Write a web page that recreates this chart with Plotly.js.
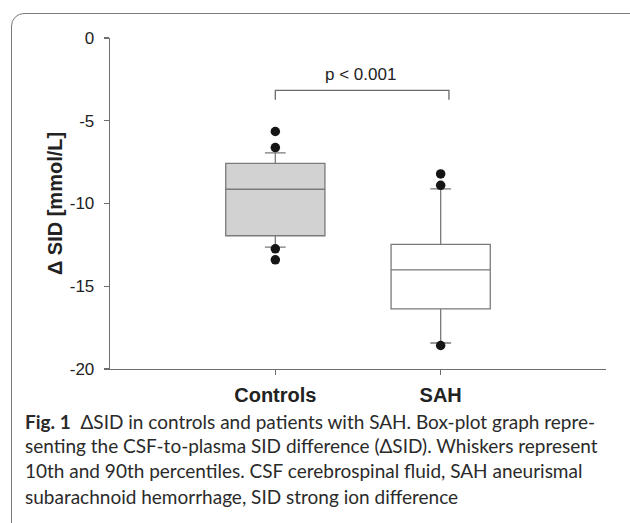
<!DOCTYPE html>
<html>
<head>
<meta charset="utf-8">
<script src="https://cdn.plot.ly/plotly-3.0.1.min.js"></script>
<style>
  html, body { margin: 0; padding: 0; background: #fff; width: 630px; height: 523px; overflow: hidden; }
  #frame { position: absolute; left: 11px; top: 13px; width: 700px; height: 600px;
           border: 1.3px solid #7a7a7a; border-radius: 13px; box-sizing: border-box; }
  #chart { position: absolute; left: 0; top: 0; width: 630px; height: 523px; }
</style>
</head>
<body>
<div id="frame"></div>
<div id="chart"></div>
<script>
// ---- data ----
const categories = ["Controls", "SAH"];
const categoryPos = [0, 1];
// box statistics (whiskers = 10th / 90th percentiles)
const p10    = [-12.63, -18.43];
const q1     = [-11.95, -16.37];
const median = [-9.14, -14.01];
const q3     = [-7.57, -12.47];
const p90    = [-6.94, -9.12];
// points outside the whiskers
const controlsOutliers = [-5.65, -6.62, -12.74, -13.40];
const sahOutliers      = [-8.21, -8.90, -18.58];
// significance bracket
const bracketX = [0, 0, 1.05, 1.05];
const bracketY = [-3.73, -3.17, -3.17, -3.73];
const pLabel = "p < 0.001";
const yTicks = [0, -5, -10, -15, -20];
const yTickLabels = ["0", "-5", "-10", "-15", "-20"];
const captionLines = [
  "<b>Fig. 1</b>  ΔSID in controls and patients with SAH. Box-plot graph repre-",
  "senting the CSF-to-plasma SID difference (ΔSID). Whiskers represent",
  "10th and 90th percentiles. CSF cerebrospinal fluid, SAH aneurismal",
  "subarachnoid hemorrhage, SID strong ion difference"
];

const fills = ["#d2d2d2", "#ffffff"];
const traces = [];
categories.forEach((c, i) => {
  traces.push({
    type: "box",
    name: c,
    x: [categoryPos[i]],
    q1: [q1[i]], median: [median[i]], q3: [q3[i]],
    lowerfence: [p10[i]], upperfence: [p90[i]],
    boxpoints: false,
    width: 0.6,
    whiskerwidth: 0.21,
    fillcolor: fills[i],
    line: { color: "#7a7a7a", width: 1.3 },
    hoverinfo: "skip",
    showlegend: false
  });
});
traces.push({
  type: "scatter", mode: "markers",
  x: controlsOutliers.map(() => categoryPos[0]).concat(sahOutliers.map(() => categoryPos[1])),
  y: controlsOutliers.concat(sahOutliers),
  marker: { color: "#151515", size: 9.5 },
  showlegend: false, hoverinfo: "skip"
});
traces.push({
  type: "scatter", mode: "lines",
  x: bracketX, y: bracketY,
  line: { color: "#6a6a6a", width: 1.3 },
  showlegend: false, hoverinfo: "skip"
});

const plotL = 110, plotR = 606, plotT = 38.3, plotB = 368.7;
const pw = plotR - plotL, ph = plotB - plotT;
const capBase = [421, 445.5, 470.5, 495.5];
const annotations = [{
  x: 0.513, y: -2.22, xref: "x", yref: "y",
  text: pLabel, showarrow: false,
  font: { family: "Liberation Sans, Arial, sans-serif", size: 17, color: "#222" }
}];
captionLines.forEach((t, i) => {
  annotations.push({
    xref: "paper", yref: "paper",
    x: (23 - plotL) / pw, y: (plotB - capBase[i]) / ph,
    xanchor: "left", yanchor: "middle",
    text: t, showarrow: false, align: "left",
    font: { family: "Lato, sans-serif", size: 19, color: "#2a2a2a" }
  });
});

const layout = {
  width: 630, height: 523,
  margin: { l: plotL, r: 630 - plotR, t: plotT, b: 523 - plotB },
  paper_bgcolor: "rgba(0,0,0,0)",
  plot_bgcolor: "rgba(0,0,0,0)",
  font: { family: "Liberation Sans, Arial, sans-serif", color: "#222" },
  showlegend: false,
  xaxis: {
    range: [-1, 2],
    tickvals: categoryPos, ticktext: categories,
    ticks: "outside", ticklen: 5, tickcolor: "#6e6e6e", tickwidth: 1.2,
    showline: true, linecolor: "#6e6e6e", linewidth: 1.3,
    showgrid: false, zeroline: false,
    tickfont: { size: 20, family: "Liberation Sans, Arial, sans-serif", color: "#222", weight: "bold" },
    ticklabelstandoff: 3
  },
  yaxis: {
    range: [-20, 0],
    tickvals: yTicks, ticktext: yTickLabels,
    ticks: "outside", ticklen: 5, tickcolor: "#6e6e6e", tickwidth: 1.2,
    showline: true, linecolor: "#6e6e6e", linewidth: 1.3,
    showgrid: false, zeroline: false,
    tickfont: { size: 17, color: "#222" },
    ticklabelstandoff: 6,
    title: { text: "<b>Δ SID [mmol/L]</b>", font: { size: 20, color: "#222" }, standoff: 1 }
  },
  annotations: annotations
};

Plotly.newPlot("chart", traces, layout, { staticPlot: true, displayModeBar: false });
</script>
</body>
</html>
